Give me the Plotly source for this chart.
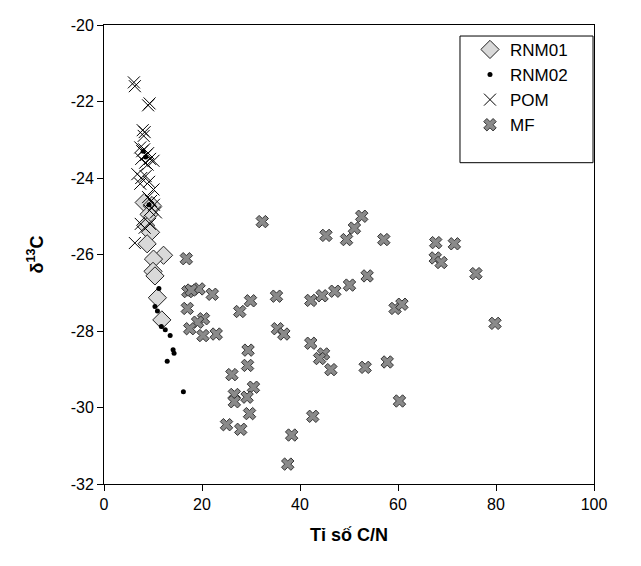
import plotly.graph_objects as go

# C/N ratio and delta13C
rnm01_cn = [8.2, 9.8, 9.2, 8.5, 9.5, 8.8, 12.15, 10.1, 10.0, 10.4, 10.9, 11.8]
rnm01_d13c = [-24.64, -24.72, -24.95, -25.24, -25.42, -25.72, -26.02, -26.12, -26.44, -26.56, -27.13, -27.71]

rnm02_cn = [8.0, 8.5, 9.2, 11.2, 10.4, 10.9, 11.7, 12.5, 13.5, 14.1, 14.3, 12.9, 16.2]
rnm02_d13c = [-23.3, -23.45, -24.7, -26.89, -27.36, -27.48, -27.88, -27.97, -28.12, -28.49, -28.58, -28.79, -29.59]

pom_cn = [6.1, 6.3, 9.0, 9.3, 7.9, 8.3, 8.1,
          7.4, 7.8, 8.2, 8.6, 9.0, 9.4, 7.6, 8.4, 8.9, 10.1,
          6.8, 7.6, 8.5, 9.2, 7.4, 10.1,
          9.0, 9.6, 10.2, 9.3, 10.6,
          7.5, 8.3, 9.4, 6.3]
pom_d13c = [-21.5, -21.6, -22.1, -22.05, -22.75, -22.8, -22.9,
            -23.2, -23.3, -23.25, -23.4, -23.35, -23.5, -23.5, -23.6, -23.65, -23.55,
            -23.9, -24.0, -23.95, -24.1, -24.15, -24.3,
            -24.5, -24.6, -24.7, -24.85, -24.9,
            -25.2, -25.3, -25.2, -25.7]

mf_cn = [32.3, 16.8, 17.1, 19.4, 17.8, 22.1, 29.9, 35.2, 42.2, 17.0, 27.7, 20.3, 19.1, 17.5,
         20.2, 22.9, 35.4, 36.7, 42.2, 29.4, 29.3, 26.1, 30.5, 26.6, 29.2, 26.6, 29.7, 25.0,
         27.9, 38.3, 37.5, 42.6,
         52.6, 51.1, 49.5, 45.3, 57.1, 67.7, 67.6, 68.8, 53.7, 50.1, 47.1, 44.5, 59.4, 60.8,
         44.8, 44.0, 46.3, 53.3, 57.8, 60.3, 71.5, 75.9, 79.8]
mf_d13c = [-25.14, -26.11, -26.97, -26.9, -26.93, -27.04, -27.21, -27.09, -27.2, -27.41, -27.49, -27.68, -27.77, -27.94,
           -28.12, -28.08, -27.94, -28.08, -28.32, -28.5, -28.9, -29.14, -29.47, -29.66, -29.73, -29.85, -30.16, -30.45,
           -30.57, -30.72, -31.48, -30.23,
           -25.0, -25.31, -25.61, -25.5, -25.61, -25.69, -26.09, -26.21, -26.56, -26.8, -26.96, -27.08, -27.41, -27.3,
           -28.6, -28.72, -29.01, -28.95, -28.81, -29.83, -25.72, -26.5, -27.8]

x_ticks = [0, 20, 40, 60, 80, 100]
y_ticks = [-32, -30, -28, -26, -24, -22, -20]

font = "Arial, Liberation Sans, sans-serif"

fig = go.Figure()

fig.add_trace(go.Scatter(x=rnm01_cn, y=rnm01_d13c, mode='markers', name='RNM01', legendgroup='a',
                         marker=dict(symbol='diamond', size=14, color='#d9d9d9',
                                     line=dict(color='#222222', width=1))))
fig.add_trace(go.Scatter(x=rnm02_cn, y=rnm02_d13c, mode='markers', name='RNM02', legendgroup='b',
                         marker=dict(symbol='circle', size=5, color='black')))
fig.add_trace(go.Scatter(x=pom_cn, y=pom_d13c, mode='markers', name='POM', legendgroup='c',
                         marker=dict(symbol='x-thin-open', size=12, color='black',
                                     line=dict(color='black', width=1))))
fig.add_trace(go.Scatter(x=mf_cn, y=mf_d13c, mode='markers', name='MF', legendgroup='d',
                         marker=dict(symbol='x', size=11, color='#8a8a8a',
                                     line=dict(color='#333333', width=1))))

# legend frame
fig.add_shape(type='rect', xref='paper', yref='paper', x0=0.7265, x1=0.998, y0=0.70, y1=0.976,
              line=dict(color='black', width=1), fillcolor='rgba(0,0,0,0)', layer='above')

# the page body adds an 8px margin, so the figure is a little smaller than the window
fig.update_layout(
    width=625, height=550,
    margin=dict(l=96, r=39, t=9, b=74),
    paper_bgcolor='white', plot_bgcolor='white',
    font=dict(family=font, size=16, color='black'),
    showlegend=True,
    legend=dict(x=0.7265, y=0.985, xanchor='left', yanchor='top',
                borderwidth=0, bgcolor='rgba(0,0,0,0)',
                font=dict(size=17), indentation=10, tracegroupgap=0),
    xaxis=dict(range=[0, 100], tickvals=x_ticks, ticktext=[str(v) for v in x_ticks],
               ticks='outside', ticklen=6, tickcolor='black',
               showline=True, linecolor='black', linewidth=1, mirror=True,
               showgrid=False, zeroline=False,
               title=dict(text='<b>Tỉ số C/N</b>', font=dict(size=18), standoff=16)),
    yaxis=dict(range=[-32, -20], tickvals=y_ticks, ticktext=[str(v) for v in y_ticks],
               ticks='outside', ticklen=6, tickcolor='black',
               showline=True, linecolor='black', linewidth=1, mirror=True,
               showgrid=False, zeroline=False,
               title=dict(text='<b>δ<sup>13</sup>C</b>', font=dict(size=18), standoff=22)),
)

fig.write_html("out.html")
